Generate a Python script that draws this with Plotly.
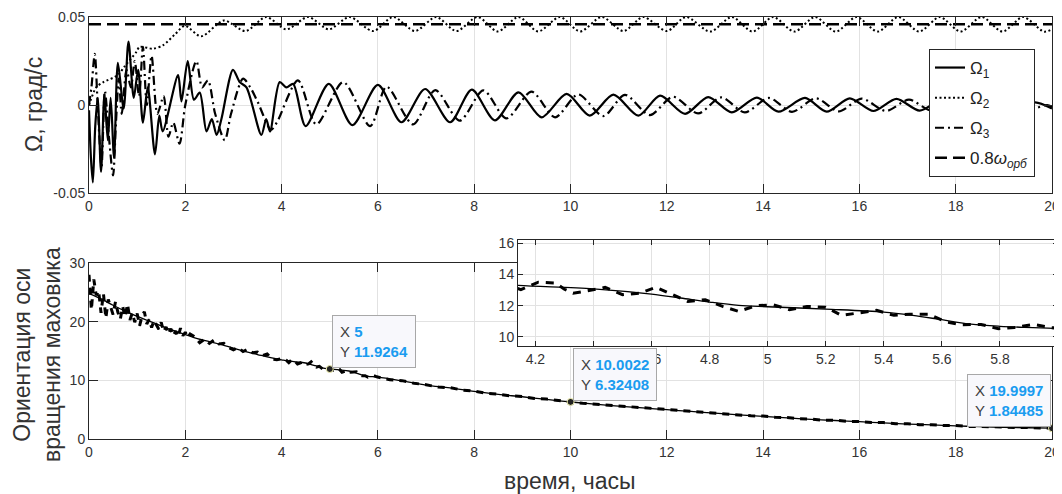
import plotly.graph_objects as go

# ---------------- data: top panel (angular rates, deg/s) ----------------
t_om1 = [0, 0.04, 0.08, 0.13, 0.18, 0.25, 0.32, 0.39, 0.45, 0.52, 0.6, 0.72, 0.82, 0.93, 1.02,
         1.12, 1.22, 1.37, 1.46, 1.53, 1.85, 1.92, 2.05, 2.18, 2.3, 2.44, 2.55, 2.65, 2.75, 2.99,
         3.13, 3.27, 3.58, 3.68, 3.76, 3.96, 4.1, 4.24, 4.5, 4.98, 5.47, 6.0, 6.49, 6.98, 7.5,
         7.95, 8.43, 8.92, 9.40, 9.92, 10.4, 10.89, 11.41, 11.86, 12.38, 12.86, 13.35, 13.87,
         14.32, 14.87, 15.32, 15.8, 16.29, 16.77, 17.25, 17.73, 18.22, 18.7, 19.2, 19.65, 20]
v_om1 = [-0.003, -0.03, -0.044, -0.012, 0.004, -0.038, 0.006, -0.02, 0.004, -0.03, 0.024, -0.002,
         0.036, 0.004, 0.02, -0.01, 0.01, -0.028, -0.006, -0.015, 0.017, 0.002, 0.025, 0.003,
         0.007, -0.015, -0.008, -0.017, -0.008, 0.02, 0.013, 0.01, -0.017, -0.008, -0.015, 0.013,
         0.01, 0.012, -0.012, 0.012, -0.0114, 0.0114, -0.0098, 0.0091, -0.0098, 0.0087, -0.0087,
         0.0072, -0.007, 0.0063, -0.006, 0.0059, -0.006, 0.0053, -0.005, 0.0045, -0.0042, 0.0042,
         -0.0038, 0.0040, -0.0038, 0.0038, -0.0034, 0.0035, -0.0032, 0.003, -0.003, 0.0025,
         -0.003, 0.0015, -0.002]

t_om2 = [0, 0.15, 0.3, 0.6, 0.74, 0.98, 1.05, 1.33, 1.54, 1.78, 1.99, 2.33, 2.8, 3.25, 3.68, 4.1,
         4.55, 4.98, 5.41, 5.9, 6.32, 6.77, 7.21, 7.63, 8.07, 8.49, 8.92, 9.33, 9.78, 10.2, 10.65,
         11.1, 11.51, 12.0, 12.4, 12.9, 13.35, 13.78, 14.21, 14.65, 15.08, 15.51, 15.94, 16.38,
         16.81, 17.24, 17.67, 18.1, 18.54, 18.97, 19.4, 19.83, 20]
v_om2 = [0.0, 0.01, 0.013, 0.017, 0.022, 0.03, 0.033, 0.032, 0.034, 0.04, 0.045, 0.039, 0.048,
         0.042, 0.050, 0.043, 0.050, 0.043, 0.050, 0.042, 0.050, 0.042, 0.050, 0.042, 0.050,
         0.0418, 0.050, 0.0418, 0.050, 0.0418, 0.050, 0.042, 0.050, 0.042, 0.050, 0.0417, 0.050,
         0.0417, 0.050, 0.0417, 0.050, 0.0417, 0.050, 0.0417, 0.050, 0.0417, 0.050, 0.0417,
         0.050, 0.0417, 0.050, 0.0417, 0.043]

t_om3 = [0, 0.05, 0.12, 0.18, 0.26, 0.33, 0.42, 0.5, 0.56, 0.62, 0.68, 0.78, 0.87, 0.95, 1.04,
         1.12, 1.2, 1.3, 1.42, 1.55, 1.65, 1.75, 1.88, 2.0, 2.23, 2.35, 2.47, 2.62, 2.82, 2.95,
         3.2, 3.35, 3.5, 3.78, 3.9, 4.34, 4.72, 5.28, 5.84, 6.18, 6.73, 7.19, 7.7, 8.19, 8.67,
         9.19, 9.68, 10.16, 10.68, 11.13, 11.65, 12.13, 12.65, 13.13, 13.62, 14.12, 14.6, 15.1,
         15.57, 16.05, 16.55, 17.03, 17.5, 18.0, 18.5, 18.95, 19.45, 19.9, 20]
v_om3 = [0.0, 0.01, 0.029, 0.0, -0.035, 0.008, -0.02, -0.04, -0.01, 0.015, -0.005, 0.02, 0.01,
         0.025, 0.005, 0.033, 0.0, 0.028, -0.005, 0.005, -0.018, -0.01, -0.022, 0.0, 0.025, 0.01,
         0.014, -0.005, -0.02, -0.005, 0.015, 0.01, 0.002, -0.014, -0.01, 0.014, -0.011, 0.013,
         -0.012, 0.0104, -0.011, 0.0085, -0.0089, 0.0083, -0.0076, 0.0076, -0.007, 0.006, -0.0063,
         0.0057, -0.0057, 0.0047, -0.0048, 0.0043, -0.0042, 0.004, -0.0039, 0.0038, -0.0036,
         0.0036, -0.0034, 0.003, -0.0032, 0.003, -0.003, 0.0025, -0.003, 0.0, -0.001]

t_orb = [0, 20]
v_orb = [0.0459, 0.0459]

# ---------------- data: bottom panel (axis orientation) ----------------
t_smooth = [0, 0.25, 0.5, 0.75, 1, 1.25, 1.5, 1.75, 2, 2.25, 2.5, 2.75, 3, 3.25, 3.5, 3.75, 4.0,
            4.14, 4.4, 4.6, 4.7, 4.8, 4.9, 5.0, 5.2, 5.4, 5.5, 5.6, 5.7, 5.8, 6.0, 6.5, 7, 7.5, 8,
            8.5, 9, 9.5, 10, 10.5, 11, 11.5, 12, 12.5, 13, 13.5, 14, 14.5, 15, 15.5, 16, 16.5, 17,
            17.5, 18, 18.5, 19, 19.5, 20]
v_smooth = [24.8, 23.9, 22.8, 21.8, 20.9, 20.1, 19.3, 18.5, 17.8, 17.1, 16.6, 16.1, 15.5, 14.9,
            14.4, 13.9, 13.5, 13.3, 13.08, 12.74, 12.49, 12.23, 12.02, 11.93, 11.78, 11.59, 11.38,
            11.1, 10.82, 10.68, 10.53, 9.9, 9.2, 8.7, 8.1, 7.6, 7.2, 6.75, 6.32, 5.95, 5.6, 5.3,
            5.0, 4.7, 4.4, 4.1, 3.85, 3.6, 3.35, 3.15, 2.95, 2.75, 2.55, 2.4, 2.25, 2.1, 2.0, 1.92,
            1.84]

t_noisy = [0, 0.05, 0.1, 0.15, 0.2, 0.25, 0.3, 0.35, 0.4, 0.45, 0.5, 0.55, 0.6, 0.65, 0.7, 0.75,
           0.8, 0.85, 0.9, 0.95, 1.0, 1.05, 1.1, 1.15, 1.2, 1.25, 1.3, 1.35, 1.4, 1.45, 1.5, 1.55,
           1.6, 1.65, 1.7, 1.75, 1.8, 1.85, 1.9, 1.95, 2.0, 2.05, 2.1, 2.2, 2.3, 2.4, 2.5, 2.6,
           2.7, 2.8, 2.9, 3.0, 3.1, 3.2, 3.3, 3.4, 3.5, 3.6, 3.7, 3.8, 3.9, 4.0, 4.1,
           4.15, 4.21, 4.27, 4.3, 4.33, 4.38, 4.44, 4.5, 4.56, 4.615, 4.67, 4.725, 4.785, 4.845,
           4.9, 4.96, 5.02, 5.075, 5.135, 5.2, 5.255, 5.315, 5.375, 5.435, 5.49, 5.555, 5.615,
           5.67, 5.735, 5.795, 5.85, 5.915, 5.975,
           6.25, 6.5, 6.75, 7.0, 7.25, 7.5, 7.75, 8.0, 8.25, 8.5, 8.75, 9.0, 9.25, 9.5, 9.75,
           10.0, 10.25, 10.5, 10.75, 11.0, 11.25, 11.5, 11.75, 12.0, 12.25, 12.5, 12.75, 13.0,
           13.25, 13.5, 13.75, 14.0, 14.25, 14.5, 14.75, 15.0, 15.25, 15.5, 15.75, 16.0, 16.25,
           16.5, 16.75, 17.0, 17.25, 17.5, 17.75, 18.0, 18.25, 18.5, 18.75, 19.0, 19.25, 19.5,
           19.75, 20.0]
v_noisy = [28.0, 22.0, 27.2, 24.5, 25.3, 21.5, 24.8, 20.6, 23.8, 22.4, 21.2, 23.4, 21.6, 20.4,
           22.6, 20.8, 23.0, 20.3, 21.5, 19.9, 21.4, 19.3, 20.9, 21.7, 19.6, 20.4, 19.0, 20.2,
           19.4, 18.7, 19.9, 18.3, 19.1, 17.9, 18.8, 17.6, 18.4, 17.4, 18.9, 17.6, 18.2, 17.3,
           17.9, 17.4, 16.4, 17.0, 16.3, 16.9, 16.2, 16.3, 15.6, 15.2, 15.6, 14.9, 15.3, 14.7,
           14.8, 14.2, 14.5, 13.6, 13.5, 13.7, 13.4,
           13.02, 13.5, 13.45, 13.05, 12.8, 12.95, 13.17, 12.7, 12.8, 13.17, 12.7, 12.27, 12.38,
           11.95, 11.63, 12.0, 12.05, 11.74, 11.95, 11.9, 11.38, 11.53, 11.7, 11.38, 11.45, 11.45,
           10.95, 10.78, 10.8, 10.53, 10.6, 10.8, 10.6,
           10.1, 9.95, 9.5, 9.25, 8.85, 8.75, 8.35, 8.15, 7.8, 7.65, 7.35, 7.25, 6.9, 6.8, 6.5,
           6.32, 6.1, 5.95, 5.7, 5.65, 5.4, 5.35, 5.1, 5.05, 4.8, 4.75, 4.5, 4.45, 4.2, 4.15, 3.95,
           3.9, 3.7, 3.65, 3.45, 3.4, 3.2, 3.2, 3.0, 3.0, 2.8, 2.8, 2.6, 2.6, 2.45, 2.45, 2.3,
           2.3, 2.15, 2.15, 2.05, 2.05, 1.95, 1.95, 1.87, 1.84]

tip_x = [5, 10.0022, 19.9997]
tip_y = [11.9264, 6.32408, 1.84485]
tip_xlabel = ["5", "10.0022", "19.9997"]
tip_ylabel = ["11.9264", "6.32408", "1.84485"]

x_ticks = [0, 2, 4, 6, 8, 10, 12, 14, 16, 18, 20]
top_yticks = [-0.05, 0, 0.05]
top_yticklabels = ["-0.05", "0", "0.05"]
bot_yticks = [0, 10, 20, 30]
inset_xticks = [4.2, 4.4, 4.6, 4.8, 5.0, 5.2, 5.4, 5.6, 5.8, 6.0]
inset_xticklabels = ["4.2", "4.4", "4.6", "4.8", "5", "5.2", "5.4", "5.6", "5.8", "6"]
inset_yticks = [10, 12, 14, 16]

# ---------------- figure ----------------
# The page has the browser's default 8px body margin, so the figure is made
# 8px smaller and all page positions are shifted by that offset.
OFF = 8
W, H = 1062 - OFF, 494 - OFF
FONT = "Liberation Sans, Arial, Helvetica, sans-serif"
TXT = "#333333"
AX = "#262626"
GRID = "#e2e2e2"
BLUE = "#1a9cf0"

def px_x(p):
    return (p - OFF) / W

def px_y(p):
    return 1 - (p - OFF) / H

fig = go.Figure()

# top panel
fig.add_trace(go.Scatter(x=t_om1, y=v_om1, mode="lines", name="Ω<sub>1</sub>",
                         line=dict(color="black", width=2.2, shape="spline", smoothing=0.8),
                         xaxis="x", yaxis="y", legendgroup="a"))
fig.add_trace(go.Scatter(x=t_om2, y=v_om2, mode="lines", name="Ω<sub>2</sub>",
                         line=dict(color="black", width=2, shape="spline", smoothing=0.8, dash="2px,2.5px"),
                         xaxis="x", yaxis="y", legendgroup="b"))
fig.add_trace(go.Scatter(x=t_om3, y=v_om3, mode="lines", name="Ω<sub>3</sub>",
                         line=dict(color="black", width=2.2, shape="spline", smoothing=0.8,
                                   dash="9px,4px,2px,4px"),
                         xaxis="x", yaxis="y", legendgroup="c"))
fig.add_trace(go.Scatter(x=t_orb, y=v_orb, mode="lines", name="0.8<i>ω</i><sub><i>орб</i></sub>",
                         line=dict(color="black", width=2.5, dash="12px,6px"),
                         xaxis="x", yaxis="y", legendgroup="d"))

# bottom panel
fig.add_trace(go.Scatter(x=t_noisy, y=v_noisy, mode="lines", showlegend=False,
                         line=dict(color="black", width=3, dash="7px,6px"),
                         xaxis="x2", yaxis="y2"))
fig.add_trace(go.Scatter(x=t_smooth, y=v_smooth, mode="lines", showlegend=False,
                         line=dict(color="black", width=1.3, shape="spline"),
                         xaxis="x2", yaxis="y2"))
fig.add_trace(go.Scatter(x=tip_x, y=tip_y, mode="markers", showlegend=False,
                         marker=dict(color="#222222", size=7, line=dict(color="#f2f2b0", width=1)),
                         xaxis="x2", yaxis="y2"))

# inset
fig.add_trace(go.Scatter(x=t_noisy, y=v_noisy, mode="lines", showlegend=False,
                         line=dict(color="black", width=3, dash="8px,7px"),
                         xaxis="x3", yaxis="y3"))
fig.add_trace(go.Scatter(x=t_smooth, y=v_smooth, mode="lines", showlegend=False,
                         line=dict(color="black", width=1.3, shape="spline"),
                         xaxis="x3", yaxis="y3"))

axis_common = dict(showline=True, linecolor=AX, linewidth=1, mirror="ticks", ticks="inside",
                   tickcolor=AX, showgrid=True, gridcolor=GRID, gridwidth=1, zeroline=False,
                   automargin=False, ticklabeloverflow="allow",
                   tickfont=dict(family=FONT, size=14, color=TXT))

dom_x = [px_x(89), px_x(1052)]
fig.update_layout(
    width=W, height=H, margin=dict(l=0, r=0, t=0, b=0, autoexpand=False),
    paper_bgcolor="white", plot_bgcolor="white",
    font=dict(family=FONT, color=TXT),
    xaxis=dict(domain=dom_x, anchor="y", range=[0, 20], tickvals=x_ticks, ticklen=9, **axis_common),
    yaxis=dict(domain=[px_y(193), px_y(17)], anchor="x", range=[-0.05, 0.05], tickvals=top_yticks,
               ticktext=top_yticklabels, ticklen=9, **axis_common),
    xaxis2=dict(domain=dom_x, anchor="y2", range=[0, 20], tickvals=x_ticks, ticklen=9, **axis_common),
    yaxis2=dict(domain=[px_y(439), px_y(263)], anchor="x2", range=[0, 30], tickvals=bot_yticks,
                ticklen=9, **axis_common),
    xaxis3=dict(domain=[px_x(518), min(1.0, px_x(1058))], anchor="y3", range=[4.14, 6.0],
                tickvals=inset_xticks, ticktext=inset_xticklabels, ticklen=5, **axis_common),
    yaxis3=dict(domain=[px_y(346), px_y(240)], anchor="x3", range=[9.42, 16.2], tickvals=inset_yticks,
                ticklen=5, **axis_common),
    showlegend=True,
    legend=dict(x=px_x(1035), xanchor="right", y=px_y(49), yanchor="top",
                bgcolor="white", bordercolor=AX, borderwidth=1,
                font=dict(family=FONT, size=17, color="#222222"),
                tracegroupgap=5, itemwidth=30),
)

annotations = [
    dict(text="Ω, град/с", x=px_x(34), y=px_y(105), xref="paper", yref="paper",
         xanchor="center", yanchor="middle",
         textangle=-90, showarrow=False, font=dict(family=FONT, size=23, color=TXT)),
    dict(text="Ориентация оси<br>вращения маховика", x=px_x(37), y=px_y(355), xref="paper",
         yref="paper", xanchor="center", yanchor="middle",
         textangle=-90, showarrow=False, font=dict(family=FONT, size=23, color=TXT)),
    dict(text="время, часы", x=px_x(570), y=px_y(481), xref="paper", yref="paper",
         xanchor="center", yanchor="middle",
         showarrow=False, font=dict(family=FONT, size=23, color=TXT)),
]
for i in range(len(tip_x)):
    txt = (f"X <b><span style='color:{BLUE}'>{tip_xlabel[i]}</span></b><br>"
           f"Y <b><span style='color:{BLUE}'>{tip_ylabel[i]}</span></b>")
    right = i == len(tip_x) - 1
    annotations.append(dict(
        text=txt, x=tip_x[i], y=tip_y[i], xref="x2", yref="y2", showarrow=False,
        xanchor="right" if right else "left", yanchor="bottom", align="left",
        xshift=-1 if right else 2, yshift=1,
        bgcolor="#f8f8fc", bordercolor="#a8a8a8", borderwidth=1, borderpad=7,
        font=dict(family=FONT, size=15, color="#404040")))
fig.update_layout(annotations=annotations)

fig.write_html("out.html")
